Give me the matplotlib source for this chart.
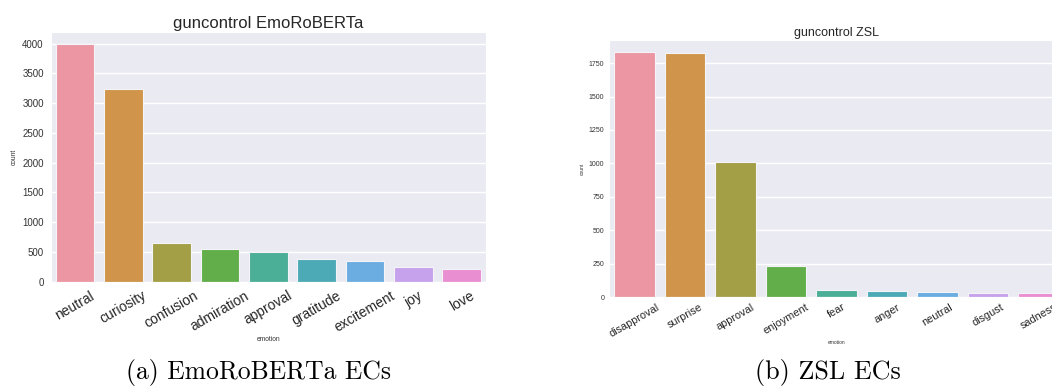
import matplotlib
matplotlib.use("Agg")
import matplotlib.pyplot as plt
import seaborn as sns
import numpy as np

# ---- data ----
emo_labels = ["neutral", "curiosity", "confusion", "admiration", "approval",
              "gratitude", "excitement", "joy", "love"]
emo_counts = [4000, 3234, 655, 549, 494, 376, 348, 252, 218]

zsl_labels = ["disapproval", "surprise", "approval", "enjoyment", "fear",
              "anger", "neutral", "disgust", "sadness"]
zsl_counts = [1832, 1828, 1009, 230, 52, 43, 35, 32, 32]

titles = ["guncontrol EmoRoBERTa", "guncontrol ZSL"]
captions = ["(a) EmoRoBERTa ECs", "(b) ZSL ECs"]

sns.set_style("darkgrid")
plt.rcParams['font.family'] = ['Liberation Sans', 'DejaVu Sans']

colors = ["#EB96A2", "#D0954B", "#A39F47", "#62AE4A", "#4BAF97",
          "#4CAAB6", "#6BADE0", "#C5A2EB", "#EA8ED2"]

fig = plt.figure(figsize=(10.52, 3.90), dpi=100)

W, H = 1052.0, 390.0
def box(l, t, r, b):
    return [l / W, 1 - b / H, (r - l) / W, (b - t) / H]

ax1 = fig.add_axes(box(50.7, 31.7, 486.0, 281.7))
ax2 = fig.add_axes(box(609.3, 40.0, 1063.8, 297.0))

def draw(ax, labels, counts, title, tfs, ytfs, xtfs, lfs, ypad, xpad, lpad_y, lpad_x):
    x = np.arange(len(labels))
    ax.bar(x, counts, width=0.8, color=colors, edgecolor="#F4F4F8", linewidth=0.8)
    ax.set_xlim(-0.5, len(labels) - 0.5)
    ax.set_ylim(0, max(counts) * 1.05)
    ax.set_xticks(x)
    ax.set_xticklabels(labels, rotation=30, fontsize=xtfs, color="#262626")
    ax.tick_params(axis="y", labelsize=ytfs, pad=ypad, labelcolor="#333333", length=0)
    ax.tick_params(axis="x", pad=xpad, length=0)
    ax.set_title(title, fontsize=tfs, color="#262626", pad=3)
    ax.set_ylabel("count", fontsize=lfs, color="#333333", labelpad=lpad_y)
    ax.set_xlabel("emotion", fontsize=lfs, color="#333333", labelpad=lpad_x)
    ax.grid(axis="x", visible=False)
    ax.grid(axis="y", color="white", linewidth=1.0)
    ax.set_axisbelow(True)

draw(ax1, emo_labels, emo_counts, titles[0], 12, 7, 10, 4.8, 5, 5, 3, 1)
ax1.set_yticks([0, 500, 1000, 1500, 2000, 2500, 3000, 3500, 4000])
draw(ax2, zsl_labels, zsl_counts, titles[1], 9, 5, 7.8, 3.5, 3.5, 3.5, 3, 1)
ax2.set_yticks([0, 250, 500, 750, 1000, 1250, 1500, 1750])

fig.text(259 / W, 1 - 373 / H, captions[0], family="cmr10", fontsize=18.5,
         ha="center", va="center", color="black")
fig.text(828 / W, 1 - 373 / H, captions[1], family="cmr10", fontsize=18.8,
         ha="center", va="center", color="black")

fig.savefig("out.png", dpi=100)
